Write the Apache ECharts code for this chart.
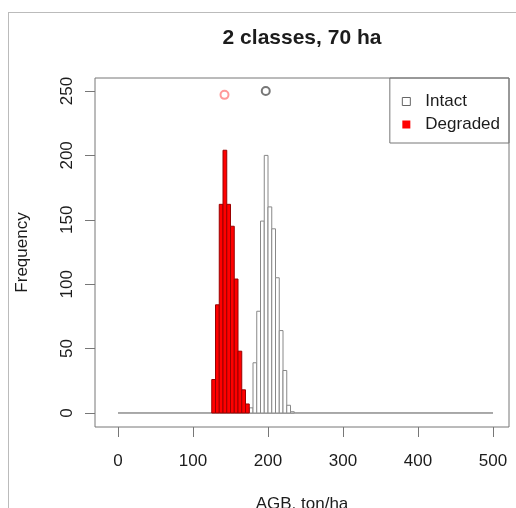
<!DOCTYPE html>
<html><head><meta charset="utf-8">
<script src="https://cdn.jsdelivr.net/npm/echarts@6/dist/echarts.min.js"></script>
<style>html,body{margin:0;padding:0;background:#fff}#c{width:516px;height:508px}</style>
</head><body><div id="c"></div>
<script>
// ---- data ----
const titleText = '2 classes, 70 ha';
const xAxisName = 'AGB, ton/ha';
const yAxisName = 'Frequency';
const seriesNames = ['Intact', 'Degraded'];
const binWidth = 5;
const intactBinStarts = [175, 180, 185, 190, 195, 200, 205, 210, 215, 220, 225, 230];
const intactCounts    = [4, 39, 79, 149, 200, 160, 143, 105, 64, 33, 6, 1];
const degradedBinStarts = [125, 130, 135, 140, 145, 150, 155, 160, 165, 170];
const degradedCounts    = [26, 84, 162, 204, 162, 145, 104, 48, 18, 7];
const intactMean = [197, 250];
const degradedMean = [142, 247];
const baselineX = [0, 500];
const xTicks = [0, 100, 200, 300, 400, 500];
const yTicks = [0, 50, 100, 150, 200, 250];

// ---- chart ----
const FONT = "'Liberation Sans', Arial, Helvetica, sans-serif";
const TXT = '#1c1c1c';
const FRAME = '#777';

function histRender(fill, stroke) {
  return function (params, api) {
    const x0 = api.value(0), c = api.value(1);
    const p0 = api.coord([x0, c]);
    const p1 = api.coord([x0 + binWidth, 0]);
    return {
      type: 'rect',
      shape: { x: p0[0], y: p0[1], width: p1[0] - p0[0], height: p1[1] - p0[1] },
      style: { fill: fill, stroke: stroke, lineWidth: 1 }
    };
  };
}

const chart = echarts.init(document.getElementById('c'), null, { renderer: 'canvas' });
chart.setOption({
  animation: false,
  backgroundColor: '#fff',
  textStyle: { fontFamily: FONT },
  title: {
    text: titleText, left: 302, top: 28, textAlign: 'center', padding: 0,
    textStyle: { fontFamily: FONT, fontSize: 21, fontWeight: 'bold', color: TXT }
  },
  grid: { left: 95, right: 7, top: 78, bottom: 81, show: true, borderColor: FRAME, borderWidth: 1,
          backgroundColor: 'transparent', containLabel: false, outerBoundsMode: 'none' },
  legend: {
    orient: 'vertical', right: 7, top: 78,
    borderColor: FRAME, borderWidth: 1, borderRadius: 0,
    padding: [15, 9, 10, 12],
    itemWidth: 8, itemHeight: 8, itemGap: 6,
    selectedMode: false,
    textStyle: { fontFamily: FONT, fontSize: 17, lineHeight: 17, color: TXT, padding: [0, 0, 0, 10] },
    data: [
      { name: seriesNames[0], icon: 'rect', itemStyle: { color: '#fff', borderColor: '#666', borderWidth: 1 } },
      { name: seriesNames[1], icon: 'rect', itemStyle: { color: '#ff0000', borderWidth: 0 } }
    ]
  },
  xAxis: {
    type: 'value', min: -30.67, max: 521.33,
    name: xAxisName, nameLocation: 'middle', nameGap: 69,
    nameTextStyle: { fontFamily: FONT, fontSize: 17, color: TXT },
    axisLine: { show: false, onZero: false },
    splitLine: { show: false },
    axisTick: { show: true, length: 10, customValues: xTicks, lineStyle: { color: FRAME } },
    axisLabel: { customValues: xTicks, fontSize: 17, fontFamily: FONT, color: TXT, margin: 26 }
  },
  yAxis: {
    type: 'value', min: -10.87, max: 260.09,
    name: yAxisName, nameLocation: 'middle', nameGap: 64,
    nameTextStyle: { fontFamily: FONT, fontSize: 17, color: TXT },
    axisLine: { show: false, onZero: false },
    splitLine: { show: false },
    axisTick: { show: true, length: 10, customValues: yTicks, lineStyle: { color: FRAME } },
    axisLabel: { customValues: yTicks, rotate: 90, fontSize: 17, fontFamily: FONT, color: TXT, margin: 19 }
  },
  series: [
    {
      type: 'line', name: 'baseline', data: baselineX.map(x => [x, 0]),
      symbol: 'none', lineStyle: { color: '#555', width: 1 }, z: 1, silent: true
    },
    {
      type: 'custom', name: seriesNames[0], renderItem: histRender('#fff', '#888'),
      data: intactBinStarts.map((s, i) => [s, intactCounts[i]]), encode: { x: 0, y: 1 }, z: 2
    },
    {
      type: 'custom', name: seriesNames[1], renderItem: histRender('#ff0000', '#990000'),
      data: degradedBinStarts.map((s, i) => [s, degradedCounts[i]]), encode: { x: 0, y: 1 }, z: 3
    },
    {
      type: 'scatter', name: 'intactMean', data: [intactMean], symbol: 'emptyCircle', symbolSize: 8,
      itemStyle: { color: '#555', borderWidth: 1.5 }, z: 4
    },
    {
      type: 'scatter', name: 'degradedMean', data: [degradedMean], symbol: 'emptyCircle', symbolSize: 8,
      itemStyle: { color: '#ff8080', borderWidth: 1.5 }, z: 4
    }
  ],
  graphic: [
    { type: 'line', silent: true, shape: { x1: 8, y1: 12.5, x2: 516, y2: 12.5 }, style: { stroke: '#bbb', lineWidth: 1 } },
    { type: 'line', silent: true, shape: { x1: 8.5, y1: 12, x2: 8.5, y2: 508 }, style: { stroke: '#bbb', lineWidth: 1 } }
  ]
});
</script>
</body></html>
